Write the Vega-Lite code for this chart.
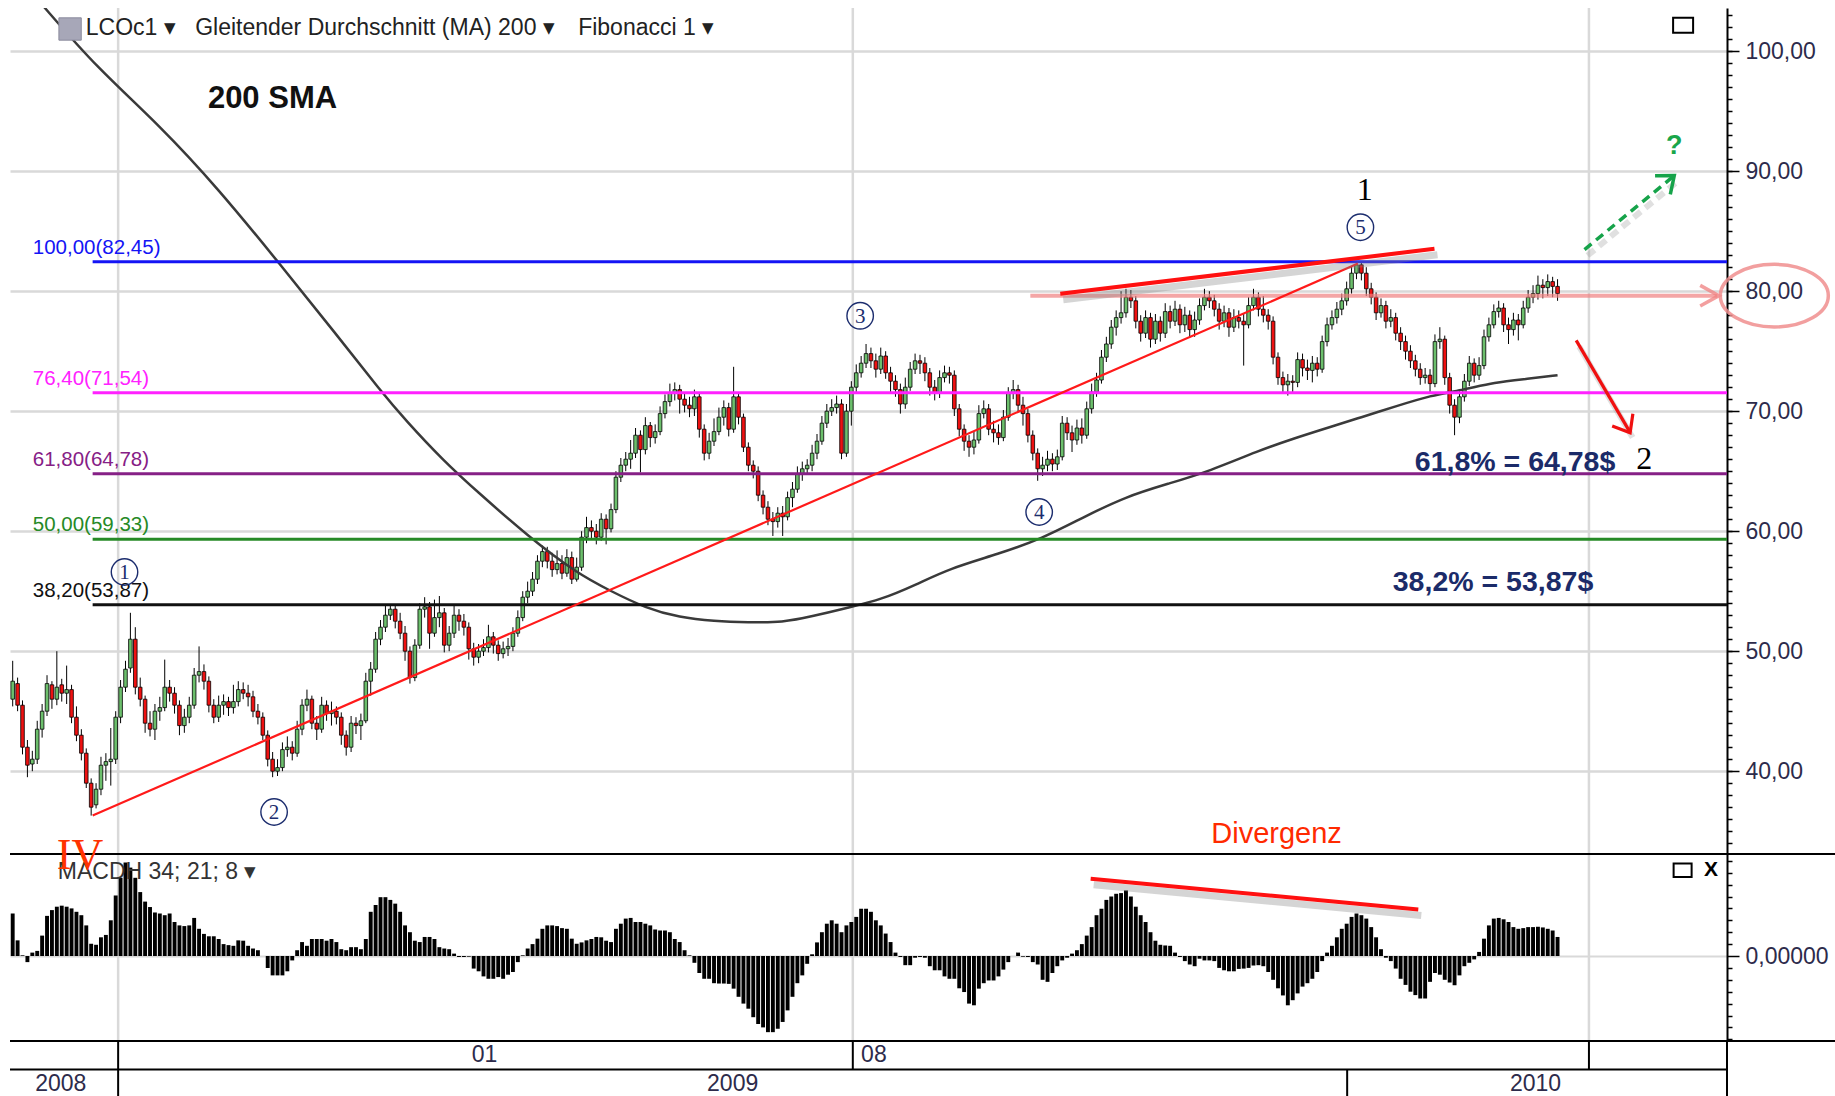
{
"$schema":"https://vega.github.io/schema/vega-lite/v6.json",
"background":"white",
"padding":{"left":9,"top":6,"right":0,"bottom":0},
"spacing":0,
"bounds":"flush",
"config":{"view":{"stroke":null},"font":"Liberation Sans","concat":{"spacing":0}},
"datasets":{"ohlc":[
{"i":0,"o":46.0,"h":49.2,"l":45.4,"c":47.5,"m":1.25},{"i":1,"o":47.3,"h":47.8,"l":45.0,"c":45.5,"m":0.46},{"i":2,"o":45.5,"h":45.9,"l":41.4,"c":42.0,"m":0.02},{"i":3,"o":42.0,"h":42.6,"l":39.5,"c":40.5,"m":-0.18},{"i":4,"o":40.6,"h":41.7,"l":40.0,"c":41.0,"m":0.1},{"i":5,"o":41.0,"h":44.2,"l":40.6,"c":43.5,"m":0.15},{"i":6,"o":43.5,"h":45.6,"l":42.8,"c":45.0,"m":0.6},{"i":7,"o":45.0,"h":48.0,"l":44.6,"c":47.3,"m":1.18},{"i":8,"o":47.2,"h":47.5,"l":45.2,"c":46.0,"m":1.35},{"i":9,"o":46.0,"h":50.0,"l":45.5,"c":47.0,"m":1.45},
{"i":10,"o":47.2,"h":47.7,"l":45.8,"c":46.5,"m":1.48},{"i":11,"o":46.5,"h":48.8,"l":45.6,"c":46.8,"m":1.45},{"i":12,"o":46.8,"h":47.2,"l":44.0,"c":44.5,"m":1.4},{"i":13,"o":44.5,"h":45.4,"l":42.5,"c":43.0,"m":1.3},{"i":14,"o":43.0,"h":43.5,"l":40.9,"c":41.5,"m":1.2},{"i":15,"o":41.5,"h":41.9,"l":38.6,"c":39.0,"m":0.9},{"i":16,"o":39.0,"h":39.4,"l":36.3,"c":37.0,"m":0.36},{"i":17,"o":37.2,"h":39.0,"l":36.9,"c":38.5,"m":0.33},{"i":18,"o":38.5,"h":41.2,"l":38.0,"c":40.5,"m":0.55},{"i":19,"o":40.5,"h":41.5,"l":39.2,"c":40.8,"m":0.62},
{"i":20,"o":40.8,"h":43.6,"l":38.8,"c":41.0,"m":1.05},{"i":21,"o":41.0,"h":45.0,"l":40.6,"c":44.5,"m":1.78},{"i":22,"o":44.5,"h":47.6,"l":44.0,"c":47.0,"m":2.3},{"i":23,"o":47.0,"h":49.2,"l":46.6,"c":48.5,"m":2.75},{"i":24,"o":48.6,"h":53.2,"l":48.2,"c":51.0,"m":2.6},{"i":25,"o":51.0,"h":52.0,"l":46.4,"c":47.0,"m":2.3},{"i":26,"o":47.0,"h":47.8,"l":45.4,"c":46.0,"m":1.88},{"i":27,"o":46.0,"h":46.3,"l":43.2,"c":44.0,"m":1.6},{"i":28,"o":44.0,"h":45.0,"l":42.9,"c":43.5,"m":1.44},{"i":29,"o":43.5,"h":45.6,"l":42.6,"c":45.0,"m":1.28},
{"i":30,"o":45.0,"h":46.2,"l":44.2,"c":45.3,"m":1.25},{"i":31,"o":45.3,"h":49.3,"l":45.0,"c":47.0,"m":1.2},{"i":32,"o":47.0,"h":47.6,"l":45.8,"c":46.5,"m":1.25},{"i":33,"o":46.5,"h":47.0,"l":44.8,"c":45.5,"m":1.0},{"i":34,"o":45.5,"h":45.9,"l":43.0,"c":43.8,"m":0.9},{"i":35,"o":43.8,"h":45.2,"l":43.2,"c":44.5,"m":0.88},{"i":36,"o":44.5,"h":46.2,"l":44.0,"c":45.5,"m":0.9},{"i":37,"o":45.5,"h":48.6,"l":45.2,"c":48.0,"m":1.12},{"i":38,"o":48.0,"h":50.4,"l":47.4,"c":48.3,"m":0.8},{"i":39,"o":48.3,"h":48.9,"l":46.8,"c":47.5,"m":0.65},
{"i":40,"o":47.5,"h":47.9,"l":44.9,"c":45.5,"m":0.58},{"i":41,"o":45.5,"h":46.0,"l":44.0,"c":44.5,"m":0.58},{"i":42,"o":44.5,"h":46.3,"l":44.1,"c":45.5,"m":0.5},{"i":43,"o":45.5,"h":46.4,"l":44.7,"c":45.8,"m":0.35},{"i":44,"o":45.8,"h":46.2,"l":44.6,"c":45.3,"m":0.32},{"i":45,"o":45.3,"h":47.2,"l":44.8,"c":45.8,"m":0.3},{"i":46,"o":45.8,"h":47.5,"l":45.4,"c":46.8,"m":0.46},{"i":47,"o":46.8,"h":47.4,"l":46.0,"c":46.5,"m":0.45},{"i":48,"o":46.5,"h":47.2,"l":45.4,"c":46.2,"m":0.3},{"i":49,"o":46.2,"h":46.7,"l":44.5,"c":45.0,"m":0.22},
{"i":50,"o":45.0,"h":45.6,"l":43.9,"c":44.5,"m":0.17},{"i":51,"o":44.5,"h":44.9,"l":42.6,"c":43.0,"m":0.0},{"i":52,"o":43.0,"h":43.4,"l":40.4,"c":41.0,"m":-0.35},{"i":53,"o":41.0,"h":41.6,"l":39.5,"c":40.0,"m":-0.57},{"i":54,"o":40.0,"h":41.0,"l":39.6,"c":40.3,"m":-0.57},{"i":55,"o":40.3,"h":42.4,"l":40.0,"c":41.8,"m":-0.57},{"i":56,"o":41.8,"h":42.9,"l":41.2,"c":42.0,"m":-0.45},{"i":57,"o":42.0,"h":42.5,"l":40.9,"c":41.5,"m":-0.13},{"i":58,"o":41.5,"h":44.2,"l":41.2,"c":43.5,"m":0.17},{"i":59,"o":43.5,"h":46.0,"l":43.0,"c":45.5,"m":0.41},
{"i":60,"o":45.5,"h":46.8,"l":45.0,"c":46.0,"m":0.3},{"i":61,"o":46.0,"h":46.3,"l":43.5,"c":44.0,"m":0.5},{"i":62,"o":44.0,"h":44.6,"l":42.6,"c":43.5,"m":0.5},{"i":63,"o":43.5,"h":46.2,"l":43.2,"c":45.5,"m":0.5},{"i":64,"o":45.5,"h":45.9,"l":44.2,"c":44.8,"m":0.45},{"i":65,"o":44.8,"h":45.8,"l":43.8,"c":45.0,"m":0.5},{"i":66,"o":45.0,"h":45.4,"l":43.9,"c":44.5,"m":0.41},{"i":67,"o":44.5,"h":44.9,"l":42.2,"c":43.0,"m":0.2},{"i":68,"o":43.0,"h":43.4,"l":41.3,"c":42.0,"m":0.17},{"i":69,"o":42.0,"h":44.6,"l":41.6,"c":44.0,"m":0.26},
{"i":70,"o":44.0,"h":44.5,"l":43.1,"c":43.8,"m":0.26},{"i":71,"o":43.8,"h":44.8,"l":42.6,"c":44.2,"m":0.2},{"i":72,"o":44.2,"h":48.2,"l":44.0,"c":47.5,"m":0.5},{"i":73,"o":47.5,"h":49.1,"l":46.3,"c":48.5,"m":1.3},{"i":74,"o":48.5,"h":51.6,"l":48.2,"c":51.0,"m":1.5},{"i":75,"o":51.0,"h":52.6,"l":50.5,"c":52.0,"m":1.73},{"i":76,"o":52.0,"h":53.8,"l":51.6,"c":53.0,"m":1.73},{"i":77,"o":53.0,"h":53.9,"l":52.6,"c":53.5,"m":1.65},{"i":78,"o":53.5,"h":53.9,"l":51.9,"c":52.5,"m":1.54},{"i":79,"o":52.5,"h":53.2,"l":51.0,"c":51.5,"m":1.3},
{"i":80,"o":51.5,"h":52.1,"l":49.2,"c":50.0,"m":0.9},{"i":81,"o":50.0,"h":50.4,"l":47.3,"c":47.8,"m":0.7},{"i":82,"o":47.8,"h":51.0,"l":47.5,"c":50.5,"m":0.45},{"i":83,"o":50.5,"h":54.0,"l":50.2,"c":53.5,"m":0.41},{"i":84,"o":53.5,"h":54.5,"l":52.8,"c":53.7,"m":0.56},{"i":85,"o":53.7,"h":54.1,"l":50.2,"c":51.5,"m":0.56},{"i":86,"o":51.5,"h":54.3,"l":51.2,"c":52.8,"m":0.5},{"i":87,"o":52.8,"h":54.6,"l":52.0,"c":53.2,"m":0.26},{"i":88,"o":53.2,"h":53.6,"l":49.9,"c":50.5,"m":0.22},{"i":89,"o":50.5,"h":52.1,"l":50.0,"c":51.5,"m":0.2},
{"i":90,"o":51.5,"h":53.9,"l":51.1,"c":53.0,"m":0.07},{"i":91,"o":53.0,"h":53.5,"l":51.7,"c":52.5,"m":-0.03},{"i":92,"o":52.5,"h":53.1,"l":51.3,"c":52.0,"m":-0.03},{"i":93,"o":52.0,"h":52.4,"l":49.3,"c":50.2,"m":-0.02},{"i":94,"o":50.2,"h":50.7,"l":48.8,"c":49.5,"m":-0.37},{"i":95,"o":49.5,"h":50.6,"l":49.0,"c":50.0,"m":-0.45},{"i":96,"o":50.0,"h":51.0,"l":49.6,"c":50.3,"m":-0.6},{"i":97,"o":50.3,"h":52.2,"l":49.9,"c":51.2,"m":-0.67},{"i":98,"o":51.2,"h":51.6,"l":49.8,"c":50.5,"m":-0.67},{"i":99,"o":50.5,"h":50.9,"l":49.2,"c":49.8,"m":-0.62},
{"i":100,"o":49.8,"h":50.8,"l":49.4,"c":50.2,"m":-0.67},{"i":101,"o":50.2,"h":51.1,"l":49.6,"c":50.4,"m":-0.55},{"i":102,"o":50.4,"h":52.0,"l":50.0,"c":51.5,"m":-0.47},{"i":103,"o":51.5,"h":53.4,"l":51.2,"c":52.8,"m":-0.18},{"i":104,"o":52.8,"h":55.0,"l":52.5,"c":54.5,"m":0.02},{"i":105,"o":54.5,"h":55.8,"l":54.0,"c":55.0,"m":0.22},{"i":106,"o":55.0,"h":56.6,"l":54.6,"c":56.0,"m":0.35},{"i":107,"o":56.0,"h":58.0,"l":55.6,"c":57.5,"m":0.51},{"i":108,"o":57.5,"h":58.8,"l":57.0,"c":58.3,"m":0.8},{"i":109,"o":58.3,"h":58.7,"l":56.9,"c":57.5,"m":0.9},
{"i":110,"o":57.5,"h":58.2,"l":56.2,"c":56.8,"m":0.9},{"i":111,"o":56.8,"h":58.4,"l":56.4,"c":57.3,"m":0.88},{"i":112,"o":57.3,"h":58.0,"l":56.0,"c":56.5,"m":0.82},{"i":113,"o":56.5,"h":58.5,"l":56.2,"c":57.8,"m":0.8},{"i":114,"o":57.8,"h":58.3,"l":55.6,"c":56.0,"m":0.51},{"i":115,"o":56.0,"h":57.8,"l":55.8,"c":57.0,"m":0.36},{"i":116,"o":57.0,"h":60.0,"l":56.7,"c":59.5,"m":0.4},{"i":117,"o":59.5,"h":61.2,"l":59.0,"c":60.3,"m":0.46},{"i":118,"o":60.3,"h":60.9,"l":59.4,"c":60.0,"m":0.5},{"i":119,"o":60.0,"h":60.6,"l":58.9,"c":59.5,"m":0.56},
{"i":120,"o":59.5,"h":61.5,"l":59.2,"c":61.0,"m":0.55},{"i":121,"o":61.0,"h":61.4,"l":58.9,"c":60.2,"m":0.45},{"i":122,"o":60.2,"h":62.3,"l":59.9,"c":61.8,"m":0.41},{"i":123,"o":61.8,"h":65.0,"l":61.5,"c":64.5,"m":0.8},{"i":124,"o":64.5,"h":66.1,"l":64.1,"c":65.5,"m":0.95},{"i":125,"o":65.5,"h":66.6,"l":65.0,"c":66.0,"m":1.1},{"i":126,"o":66.0,"h":67.6,"l":65.2,"c":66.5,"m":1.12},{"i":127,"o":66.5,"h":68.6,"l":66.1,"c":68.0,"m":1.0},{"i":128,"o":68.0,"h":68.4,"l":64.9,"c":66.8,"m":1.0},{"i":129,"o":66.8,"h":69.5,"l":66.4,"c":68.8,"m":0.95},
{"i":130,"o":68.8,"h":69.1,"l":67.0,"c":67.8,"m":0.9},{"i":131,"o":67.8,"h":68.9,"l":67.3,"c":68.3,"m":0.78},{"i":132,"o":68.3,"h":70.4,"l":68.0,"c":69.8,"m":0.75},{"i":133,"o":69.8,"h":71.4,"l":69.4,"c":70.8,"m":0.75},{"i":134,"o":70.8,"h":72.3,"l":70.4,"c":71.5,"m":0.7},{"i":135,"o":71.5,"h":72.4,"l":70.9,"c":71.8,"m":0.5},{"i":136,"o":71.8,"h":72.2,"l":69.8,"c":71.0,"m":0.41},{"i":137,"o":71.0,"h":71.6,"l":69.9,"c":70.5,"m":0.17},{"i":138,"o":70.5,"h":71.2,"l":69.5,"c":70.2,"m":0.02},{"i":139,"o":70.2,"h":71.8,"l":69.6,"c":71.2,"m":-0.2},
{"i":140,"o":71.2,"h":71.5,"l":67.8,"c":68.5,"m":-0.5},{"i":141,"o":68.5,"h":68.9,"l":65.9,"c":66.5,"m":-0.67},{"i":142,"o":66.5,"h":68.2,"l":66.0,"c":67.5,"m":-0.67},{"i":143,"o":67.5,"h":69.4,"l":67.1,"c":68.3,"m":-0.8},{"i":144,"o":68.3,"h":70.3,"l":68.0,"c":69.5,"m":-0.81},{"i":145,"o":69.5,"h":70.9,"l":68.8,"c":70.3,"m":-0.81},{"i":146,"o":70.3,"h":70.7,"l":67.9,"c":68.5,"m":-0.82},{"i":147,"o":68.5,"h":73.7,"l":68.2,"c":71.2,"m":-0.96},{"i":148,"o":71.2,"h":71.5,"l":68.9,"c":69.5,"m":-1.2},{"i":149,"o":69.5,"h":69.8,"l":66.6,"c":67.0,"m":-1.4},
{"i":150,"o":67.0,"h":67.4,"l":65.0,"c":65.5,"m":-1.55},{"i":151,"o":65.5,"h":65.9,"l":64.4,"c":65.0,"m":-1.8},{"i":152,"o":65.0,"h":65.4,"l":62.5,"c":63.0,"m":-2.0},{"i":153,"o":63.0,"h":63.4,"l":61.4,"c":62.0,"m":-2.1},{"i":154,"o":62.0,"h":62.5,"l":60.5,"c":61.0,"m":-2.24},{"i":155,"o":61.0,"h":61.6,"l":59.6,"c":60.8,"m":-2.24},{"i":156,"o":60.8,"h":62.0,"l":60.3,"c":61.5,"m":-2.14},{"i":157,"o":61.5,"h":62.1,"l":59.6,"c":61.2,"m":-1.94},{"i":158,"o":61.2,"h":63.3,"l":60.9,"c":62.8,"m":-1.6},{"i":159,"o":62.8,"h":64.1,"l":62.0,"c":63.5,"m":-1.2},
{"i":160,"o":63.5,"h":65.4,"l":63.2,"c":64.8,"m":-0.8},{"i":161,"o":64.8,"h":65.8,"l":64.2,"c":65.2,"m":-0.57},{"i":162,"o":65.2,"h":66.0,"l":64.7,"c":65.5,"m":-0.23},{"i":163,"o":65.5,"h":67.2,"l":65.0,"c":66.5,"m":0.05},{"i":164,"o":66.5,"h":68.1,"l":66.0,"c":67.5,"m":0.4},{"i":165,"o":67.5,"h":69.6,"l":67.2,"c":69.0,"m":0.7},{"i":166,"o":69.0,"h":70.6,"l":68.6,"c":70.0,"m":0.95},{"i":167,"o":70.0,"h":71.0,"l":69.6,"c":70.3,"m":1.05},{"i":168,"o":70.3,"h":71.3,"l":69.8,"c":70.6,"m":0.95},{"i":169,"o":70.6,"h":71.0,"l":66.0,"c":66.5,"m":0.7},
{"i":170,"o":66.5,"h":70.6,"l":66.2,"c":70.0,"m":0.9},{"i":171,"o":70.0,"h":72.5,"l":68.8,"c":72.0,"m":1.0},{"i":172,"o":72.0,"h":73.9,"l":71.6,"c":73.2,"m":1.15},{"i":173,"o":73.2,"h":74.6,"l":72.8,"c":74.0,"m":1.39},{"i":174,"o":74.0,"h":75.6,"l":73.6,"c":74.8,"m":1.39},{"i":175,"o":74.8,"h":75.3,"l":73.6,"c":74.2,"m":1.3},{"i":176,"o":74.2,"h":74.8,"l":72.8,"c":73.5,"m":1.05},{"i":177,"o":73.5,"h":75.3,"l":73.1,"c":74.6,"m":0.9},{"i":178,"o":74.6,"h":75.0,"l":72.7,"c":73.2,"m":0.66},{"i":179,"o":73.2,"h":73.7,"l":71.6,"c":72.5,"m":0.41},
{"i":180,"o":72.5,"h":73.0,"l":71.2,"c":71.8,"m":0.1},{"i":181,"o":71.8,"h":72.3,"l":69.8,"c":70.6,"m":-0.03},{"i":182,"o":70.6,"h":72.8,"l":70.2,"c":72.0,"m":-0.27},{"i":183,"o":72.0,"h":74.1,"l":71.7,"c":73.5,"m":-0.27},{"i":184,"o":73.5,"h":74.8,"l":73.1,"c":74.2,"m":-0.05},{"i":185,"o":74.2,"h":74.7,"l":73.1,"c":74.0,"m":-0.03},{"i":186,"o":74.0,"h":74.5,"l":72.5,"c":73.2,"m":-0.05},{"i":187,"o":73.2,"h":73.6,"l":71.3,"c":72.0,"m":-0.3},{"i":188,"o":72.0,"h":72.6,"l":70.9,"c":71.5,"m":-0.42},{"i":189,"o":71.5,"h":73.4,"l":71.1,"c":72.8,"m":-0.42},
{"i":190,"o":72.8,"h":73.8,"l":72.4,"c":73.2,"m":-0.6},{"i":191,"o":73.2,"h":73.7,"l":72.3,"c":73.0,"m":-0.67},{"i":192,"o":73.0,"h":73.4,"l":69.6,"c":70.2,"m":-0.67},{"i":193,"o":70.2,"h":70.6,"l":67.9,"c":68.5,"m":-0.95},{"i":194,"o":68.5,"h":68.9,"l":66.7,"c":67.5,"m":-1.06},{"i":195,"o":67.5,"h":68.0,"l":66.2,"c":67.0,"m":-1.4},{"i":196,"o":67.0,"h":68.3,"l":66.4,"c":67.6,"m":-1.45},{"i":197,"o":67.6,"h":70.5,"l":67.3,"c":69.8,"m":-0.96},{"i":198,"o":69.8,"h":70.9,"l":69.4,"c":70.2,"m":-0.8},{"i":199,"o":70.2,"h":70.6,"l":68.0,"c":68.5,"m":-0.72},
{"i":200,"o":68.5,"h":69.2,"l":67.4,"c":68.2,"m":-0.72},{"i":201,"o":68.2,"h":68.9,"l":67.2,"c":67.8,"m":-0.6},{"i":202,"o":67.8,"h":70.1,"l":67.5,"c":69.5,"m":-0.4},{"i":203,"o":69.5,"h":72.0,"l":69.2,"c":71.5,"m":-0.18},{"i":204,"o":71.5,"h":72.6,"l":71.0,"c":71.8,"m":0.0},{"i":205,"o":71.8,"h":72.2,"l":69.9,"c":70.5,"m":0.1},{"i":206,"o":70.5,"h":71.2,"l":68.8,"c":69.8,"m":-0.02},{"i":207,"o":69.8,"h":70.2,"l":67.4,"c":68.0,"m":-0.03},{"i":208,"o":68.0,"h":68.4,"l":65.9,"c":66.5,"m":-0.18},{"i":209,"o":66.5,"h":66.9,"l":64.2,"c":65.2,"m":-0.25},
{"i":210,"o":65.2,"h":66.2,"l":64.6,"c":65.5,"m":-0.7},{"i":211,"o":65.5,"h":66.7,"l":65.0,"c":66.0,"m":-0.76},{"i":212,"o":66.0,"h":66.5,"l":65.0,"c":65.6,"m":-0.5},{"i":213,"o":65.6,"h":66.8,"l":65.1,"c":66.2,"m":-0.3},{"i":214,"o":66.2,"h":69.6,"l":65.9,"c":69.0,"m":-0.13},{"i":215,"o":69.0,"h":69.5,"l":67.6,"c":68.2,"m":-0.05},{"i":216,"o":68.2,"h":68.8,"l":66.6,"c":67.6,"m":0.07},{"i":217,"o":67.6,"h":69.3,"l":67.2,"c":68.6,"m":0.17},{"i":218,"o":68.6,"h":69.4,"l":67.3,"c":68.0,"m":0.35},{"i":219,"o":68.0,"h":70.8,"l":67.7,"c":70.2,"m":0.6},
{"i":220,"o":70.2,"h":72.3,"l":69.8,"c":71.6,"m":0.85},{"i":221,"o":71.6,"h":73.2,"l":71.2,"c":72.6,"m":1.2},{"i":222,"o":72.6,"h":75.1,"l":72.3,"c":74.5,"m":1.39},{"i":223,"o":74.5,"h":76.2,"l":74.1,"c":75.6,"m":1.65},{"i":224,"o":75.6,"h":77.6,"l":75.2,"c":77.0,"m":1.75},{"i":225,"o":77.0,"h":78.4,"l":76.3,"c":77.8,"m":1.83},{"i":226,"o":77.8,"h":80.0,"l":77.3,"c":78.2,"m":1.85},{"i":227,"o":78.2,"h":80.2,"l":77.8,"c":79.5,"m":1.93},{"i":228,"o":79.5,"h":80.1,"l":78.6,"c":79.2,"m":1.75},{"i":229,"o":79.2,"h":79.6,"l":76.9,"c":77.5,"m":1.45},
{"i":230,"o":77.5,"h":78.0,"l":75.8,"c":76.5,"m":1.2},{"i":231,"o":76.5,"h":78.4,"l":76.1,"c":77.8,"m":1.0},{"i":232,"o":77.8,"h":78.2,"l":75.3,"c":76.0,"m":0.7},{"i":233,"o":76.0,"h":78.1,"l":75.6,"c":77.5,"m":0.45},{"i":234,"o":77.5,"h":77.9,"l":75.8,"c":76.5,"m":0.33},{"i":235,"o":76.5,"h":79.0,"l":76.1,"c":78.3,"m":0.31},{"i":236,"o":78.3,"h":78.8,"l":76.9,"c":77.5,"m":0.3},{"i":237,"o":77.5,"h":79.2,"l":77.1,"c":78.5,"m":0.1},{"i":238,"o":78.5,"h":78.9,"l":76.5,"c":77.2,"m":-0.03},{"i":239,"o":77.2,"h":78.7,"l":76.6,"c":78.0,"m":-0.15},
{"i":240,"o":78.0,"h":78.4,"l":76.1,"c":76.8,"m":-0.25},{"i":241,"o":76.8,"h":78.3,"l":76.2,"c":77.6,"m":-0.3},{"i":242,"o":77.6,"h":79.4,"l":77.2,"c":78.8,"m":-0.08},{"i":243,"o":78.8,"h":80.2,"l":78.4,"c":79.5,"m":-0.13},{"i":244,"o":79.5,"h":80.0,"l":78.6,"c":79.2,"m":-0.13},{"i":245,"o":79.2,"h":79.7,"l":77.9,"c":78.5,"m":-0.15},{"i":246,"o":78.5,"h":79.0,"l":76.8,"c":77.5,"m":-0.35},{"i":247,"o":77.5,"h":78.8,"l":77.0,"c":78.2,"m":-0.42},{"i":248,"o":78.2,"h":78.6,"l":76.2,"c":77.0,"m":-0.45},{"i":249,"o":77.0,"h":78.5,"l":76.6,"c":77.8,"m":-0.45},
{"i":250,"o":77.8,"h":78.4,"l":76.9,"c":77.5,"m":-0.38},{"i":251,"o":77.5,"h":78.1,"l":73.8,"c":77.2,"m":-0.37},{"i":252,"o":77.2,"h":79.5,"l":76.9,"c":78.8,"m":-0.35},{"i":253,"o":78.8,"h":80.2,"l":78.4,"c":79.5,"m":-0.28},{"i":254,"o":79.5,"h":79.9,"l":77.9,"c":78.5,"m":-0.27},{"i":255,"o":78.5,"h":79.6,"l":77.4,"c":78.0,"m":-0.3},{"i":256,"o":78.0,"h":78.5,"l":76.8,"c":77.5,"m":-0.47},{"i":257,"o":77.5,"h":77.9,"l":73.9,"c":74.5,"m":-0.7},{"i":258,"o":74.5,"h":74.9,"l":72.2,"c":72.8,"m":-0.95},{"i":259,"o":72.8,"h":73.3,"l":71.5,"c":72.2,"m":-1.16},
{"i":260,"o":72.2,"h":73.1,"l":71.3,"c":72.5,"m":-1.45},{"i":261,"o":72.5,"h":73.0,"l":71.6,"c":72.4,"m":-1.3},{"i":262,"o":72.4,"h":74.9,"l":72.0,"c":74.3,"m":-1.1},{"i":263,"o":74.3,"h":74.8,"l":72.9,"c":73.6,"m":-0.9},{"i":264,"o":73.6,"h":74.3,"l":72.6,"c":73.4,"m":-0.8},{"i":265,"o":73.4,"h":74.6,"l":72.4,"c":74.0,"m":-0.67},{"i":266,"o":74.0,"h":74.5,"l":72.9,"c":73.5,"m":-0.47},{"i":267,"o":73.5,"h":76.3,"l":73.2,"c":75.8,"m":-0.15},{"i":268,"o":75.8,"h":77.8,"l":75.4,"c":77.2,"m":0.1},{"i":269,"o":77.2,"h":78.4,"l":76.8,"c":77.8,"m":0.3},
{"i":270,"o":77.8,"h":79.1,"l":77.3,"c":78.5,"m":0.55},{"i":271,"o":78.5,"h":79.8,"l":78.0,"c":79.2,"m":0.8},{"i":272,"o":79.2,"h":80.8,"l":78.8,"c":80.2,"m":0.95},{"i":273,"o":80.2,"h":82.1,"l":79.8,"c":81.5,"m":1.15},{"i":274,"o":81.5,"h":82.45,"l":81.0,"c":82.2,"m":1.25},{"i":275,"o":82.2,"h":82.4,"l":80.9,"c":81.5,"m":1.2},{"i":276,"o":81.5,"h":82.0,"l":79.6,"c":80.2,"m":1.1},{"i":277,"o":80.2,"h":80.7,"l":78.9,"c":79.5,"m":0.85},{"i":278,"o":79.5,"h":79.9,"l":77.6,"c":78.2,"m":0.55},{"i":279,"o":78.2,"h":79.4,"l":77.8,"c":78.8,"m":0.2},
{"i":280,"o":78.8,"h":79.2,"l":76.9,"c":77.5,"m":-0.05},{"i":281,"o":77.5,"h":78.5,"l":77.0,"c":77.8,"m":-0.15},{"i":282,"o":77.8,"h":78.2,"l":75.9,"c":76.5,"m":-0.37},{"i":283,"o":76.5,"h":77.0,"l":75.1,"c":75.8,"m":-0.67},{"i":284,"o":75.8,"h":76.3,"l":74.3,"c":75.0,"m":-0.85},{"i":285,"o":75.0,"h":75.5,"l":73.6,"c":74.2,"m":-1.05},{"i":286,"o":74.2,"h":74.7,"l":72.9,"c":73.5,"m":-1.15},{"i":287,"o":73.5,"h":74.0,"l":72.2,"c":72.8,"m":-1.25},{"i":288,"o":72.8,"h":73.6,"l":72.3,"c":73.0,"m":-1.25},{"i":289,"o":73.0,"h":73.5,"l":71.6,"c":72.3,"m":-0.76},
{"i":290,"o":72.3,"h":76.4,"l":72.0,"c":75.8,"m":-0.5},{"i":291,"o":75.8,"h":77.0,"l":75.2,"c":76.0,"m":-0.55},{"i":292,"o":76.0,"h":76.3,"l":72.2,"c":72.8,"m":-0.7},{"i":293,"o":72.8,"h":73.2,"l":69.8,"c":70.5,"m":-0.78},{"i":294,"o":70.5,"h":71.0,"l":68.0,"c":69.5,"m":-0.86},{"i":295,"o":69.5,"h":71.8,"l":69.0,"c":71.2,"m":-0.57},{"i":296,"o":71.2,"h":73.1,"l":70.8,"c":72.5,"m":-0.3},{"i":297,"o":72.5,"h":74.6,"l":72.1,"c":74.0,"m":-0.2},{"i":298,"o":74.0,"h":74.4,"l":72.4,"c":73.0,"m":-0.1},{"i":299,"o":73.0,"h":74.5,"l":72.6,"c":73.8,"m":0.12},
{"i":300,"o":73.8,"h":76.8,"l":73.5,"c":76.2,"m":0.51},{"i":301,"o":76.2,"h":77.8,"l":75.8,"c":77.2,"m":0.9},{"i":302,"o":77.2,"h":78.9,"l":76.9,"c":78.3,"m":1.1},{"i":303,"o":78.3,"h":79.2,"l":77.8,"c":78.6,"m":1.12},{"i":304,"o":78.6,"h":79.0,"l":76.6,"c":77.2,"m":1.08},{"i":305,"o":77.2,"h":77.8,"l":75.6,"c":76.8,"m":1.0},{"i":306,"o":76.8,"h":78.2,"l":76.3,"c":77.6,"m":0.85},{"i":307,"o":77.6,"h":78.1,"l":75.9,"c":77.2,"m":0.8},{"i":308,"o":77.2,"h":79.2,"l":76.9,"c":78.6,"m":0.82},{"i":309,"o":78.6,"h":80.1,"l":78.2,"c":79.5,"m":0.85},
{"i":310,"o":79.5,"h":80.5,"l":79.0,"c":79.8,"m":0.85},{"i":311,"o":79.8,"h":81.3,"l":79.3,"c":80.5,"m":0.86},{"i":312,"o":80.5,"h":81.0,"l":79.4,"c":80.3,"m":0.84},{"i":313,"o":80.3,"h":81.4,"l":79.6,"c":80.8,"m":0.8},{"i":314,"o":80.8,"h":81.2,"l":79.5,"c":80.4,"m":0.75},{"i":315,"o":80.4,"h":81.0,"l":79.2,"c":79.8,"m":0.56}
],
"vgrid":[{"x":21.5},{"x":171.3},{"x":321.4}],
"one":[{}]
},
"vconcat":[
{
"width":1717,"height":846,
"resolve":{"axis":{"y":"independent"}},
"layer":[
{"data":{"name":"vgrid"},"mark":{"type":"rule","color":"#d9d9d9","strokeWidth":2.5},
 "encoding":{"x":{"field":"x","type":"quantitative","scale":{"domain":[-0.55,349.55],"nice":false,"zero":false,"padding":0},"axis":null}}},
{"data":{"name":"ohlc"},"mark":{"type":"rule","color":"#000","strokeWidth":1},
 "encoding":{"x":{"field":"i","type":"quantitative","scale":{"domain":[-0.55,349.55],"nice":false,"zero":false,"padding":0},"axis":null},
  "y":{"field":"l","type":"quantitative","scale":{"domain":[33.1,103.6],"nice":false,"zero":false,"padding":0},
   "axis":{"orient":"right","values":[40,50,60,70,80,90,100],"labelExpr":"replace(format(datum.value,'.2f'),'.',',')","tickSize":12,"tickColor":"#000","tickWidth":1.5,"domain":true,"domainColor":"#000","domainWidth":2,"grid":true,"gridColor":"#d9d9d9","gridWidth":2.5,"labelFontSize":23,"labelFont":"Liberation Sans","labelColor":"#2d2b4b","labelPadding":6,"title":null,"zindex":0}},
  "y2":{"field":"h"}}},
{"data":{"name":"ohlc"},"mark":{"type":"bar","width":3.6,"stroke":"#000","strokeWidth":0.8},
 "encoding":{"x":{"field":"i","type":"quantitative","scale":{"domain":[-0.55,349.55],"nice":false,"zero":false,"padding":0},"axis":null},
  "y":{"field":"o","type":"quantitative","scale":{"domain":[33.1,103.6],"nice":false,"zero":false,"padding":0},
   "axis":{"orient":"right","values":[34,35,36,37,38,39,40,41,42,43,44,45,46,47,48,49,50,51,52,53,54,55,56,57,58,59,60,61,62,63,64,65,66,67,68,69,70,71,72,73,74,75,76,77,78,79,80,81,82,83,84,85,86,87,88,89,90,91,92,93,94,95,96,97,98,99,100,101,102,103],"labels":false,"tickSize":5,"tickColor":"#000","tickWidth":1.5,"domain":false,"grid":false,"title":null,"zindex":0}},
  "y2":{"field":"c"},
  "color":{"condition":{"test":"datum.c >= datum.o","value":"#6cbf6c"},"value":"#ee1111"}}},
{"data":{"values":[{"i":0,"s":106.7},{"i":7,"s":103.4},{"i":17,"s":98.7},{"i":30,"s":93.8},{"i":42,"s":88.5},{"i":54,"s":82.5},{"i":66,"s":76.4},{"i":75,"s":71.7},{"i":80,"s":69.3},{"i":88,"s":65.8},{"i":95,"s":63.2},{"i":105,"s":59.6},{"i":115,"s":56.5},{"i":122,"s":55.0},{"i":129,"s":53.6},{"i":136,"s":52.8},{"i":143,"s":52.5},{"i":150,"s":52.4},{"i":157,"s":52.4},{"i":163,"s":52.9},{"i":171,"s":53.7},{"i":177,"s":54.3},{"i":184,"s":55.5},{"i":191,"s":56.9},{"i":201,"s":58.1},{"i":210,"s":59.4},{"i":218,"s":61.1},{"i":227,"s":62.9},{"i":236,"s":64.0},{"i":244,"s":65.0},{"i":254,"s":66.7},{"i":261,"s":67.7},{"i":268,"s":68.6},{"i":275,"s":69.5},{"i":282,"s":70.4},{"i":289,"s":71.3},{"i":296,"s":71.8},{"i":302,"s":72.4},{"i":309,"s":72.7},{"i":315,"s":73.0}]},
 "mark":{"type":"line","color":"#3a3a3a","strokeWidth":2.5,"clip":true,"interpolate":"basis"},
 "encoding":{"x":{"field":"i","type":"quantitative","scale":{"domain":[-0.55,349.55],"nice":false,"zero":false,"padding":0},"axis":null},
  "y":{"field":"s","type":"quantitative","scale":{"domain":[33.1,103.6],"nice":false,"zero":false,"padding":0},"axis":null}}},
{"data":{"values":[{"lvl":"100,00(82,45)","p":82.45},{"lvl":"76,40(71,54)","p":71.54},{"lvl":"61,80(64,78)","p":64.78},{"lvl":"50,00(59,33)","p":59.33},{"lvl":"38,20(53,87)","p":53.87}]},
 "mark":{"type":"rule","strokeWidth":3},
 "encoding":{"x":{"datum":16.3,"type":"quantitative","scale":{"domain":[-0.55,349.55],"nice":false,"zero":false,"padding":0},"axis":null},"x2":{"datum":349.55},
  "y":{"field":"p","type":"quantitative","scale":{"domain":[33.1,103.6],"nice":false,"zero":false,"padding":0},"axis":null},
  "color":{"field":"lvl","type":"nominal","scale":{"domain":["100,00(82,45)","76,40(71,54)","61,80(64,78)","50,00(59,33)","38,20(53,87)"],"range":["#1414f5","#ff22ff","#862086","#268a26","#111111"]},"legend":null}}},
{"data":{"values":[{"lvl":"100,00(82,45)","p":82.45},{"lvl":"76,40(71,54)","p":71.54},{"lvl":"61,80(64,78)","p":64.78},{"lvl":"50,00(59,33)","p":59.33},{"lvl":"38,20(53,87)","p":53.87}]},
 "mark":{"type":"text","align":"left","baseline":"alphabetic","dy":-8,"fontSize":20.5,"font":"Liberation Sans"},
 "encoding":{"x":{"datum":4.1,"type":"quantitative","scale":{"domain":[-0.55,349.55],"nice":false,"zero":false,"padding":0},"axis":null},
  "y":{"field":"p","type":"quantitative","scale":{"domain":[33.1,103.6],"nice":false,"zero":false,"padding":0},"axis":null},
  "text":{"field":"lvl"},
  "color":{"field":"lvl","type":"nominal","scale":{"domain":["100,00(82,45)","76,40(71,54)","61,80(64,78)","50,00(59,33)","38,20(53,87)"],"range":["#1414f5","#ff22ff","#862086","#268a26","#111111"]},"legend":null}}},
{"data":{"name":"one"},"mark":{"type":"rule","color":"#f08080","opacity":0.7,"strokeWidth":4},
 "encoding":{"x":{"datum":207.5,"type":"quantitative","axis":null},"x2":{"datum":347.6},"y":{"datum":79.63,"type":"quantitative","axis":null}}},
{"data":{"name":"one"},"mark":{"type":"point","shape":"M -1 -0.55 L 0 0 L -1 0.55","size":1400,"filled":false,"color":"#f08080","strokeWidth":3.5,"opacity":0.75},
 "encoding":{"x":{"datum":347.9,"type":"quantitative","axis":null},"y":{"datum":79.63,"type":"quantitative","axis":null}}},
{"data":{"name":"one"},"mark":{"type":"point","shape":"M -1 0 C -1 -0.32 -0.552 -0.58 0 -0.58 C 0.552 -0.58 1 -0.32 1 0 C 1 0.32 0.552 0.58 0 0.58 C -0.552 0.58 -1 0.32 -1 0 Z","size":11664,"filled":false,"color":"#f08f8f","strokeWidth":3.5,"opacity":0.85},
 "encoding":{"x":{"datum":359.2,"type":"quantitative","axis":null},"y":{"datum":79.63,"type":"quantitative","axis":null}}},
{"data":{"name":"one"},"mark":{"type":"rule","color":"#ff1a1a","strokeWidth":2.2},
 "encoding":{"x":{"datum":16.3,"type":"quantitative","axis":null},"y":{"datum":36.3,"type":"quantitative","axis":null},"x2":{"datum":274.3},"y2":{"datum":82.3}}},
{"data":{"name":"one"},"mark":{"type":"rule","color":"#888","opacity":0.35,"strokeWidth":7,"xOffset":3,"yOffset":6,"x2Offset":3,"y2Offset":6},
 "encoding":{"x":{"datum":213.6,"type":"quantitative","axis":null},"y":{"datum":79.78,"type":"quantitative","axis":null},"x2":{"datum":289.9},"y2":{"datum":83.53}}},
{"data":{"name":"one"},"mark":{"type":"rule","color":"#ff1010","strokeWidth":4},
 "encoding":{"x":{"datum":213.6,"type":"quantitative","axis":null},"y":{"datum":79.78,"type":"quantitative","axis":null},"x2":{"datum":289.9},"y2":{"datum":83.53}}},
{"data":{"values":[{"t":"200 SMA","x":39.8,"y":96.0}]},
 "mark":{"type":"text","align":"left","baseline":"middle","fontSize":31,"fontWeight":"bold","color":"#111","font":"Liberation Sans"},
 "encoding":{"x":{"field":"x","type":"quantitative","axis":null},"y":{"field":"y","type":"quantitative","axis":null},"text":{"field":"t"}}},
{"data":{"values":[{"t":"61,8% = 64,78$","x":285.9,"y":65.78},{"t":"38,2% = 53,87$","x":281.4,"y":55.75}]},
 "mark":{"type":"text","align":"left","baseline":"middle","fontSize":28.5,"fontWeight":"bold","color":"#1b2b69","font":"Liberation Sans"},
 "encoding":{"x":{"field":"x","type":"quantitative","axis":null},"y":{"field":"y","type":"quantitative","axis":null},"text":{"field":"t"}}},
{"data":{"values":[{"t":"1","x":275.7,"y":88.4},{"t":"2","x":332.7,"y":66.0}]},
 "mark":{"type":"text","align":"center","baseline":"middle","fontSize":32,"color":"#000","font":"Liberation Serif"},
 "encoding":{"x":{"field":"x","type":"quantitative","axis":null},"y":{"field":"y","type":"quantitative","axis":null},"text":{"field":"t"}}},
{"data":{"values":[{"t":"Divergenz","x":257.7,"y":34.75}]},
 "mark":{"type":"text","align":"center","baseline":"middle","fontSize":29,"color":"#ff2a00","font":"Liberation Sans"},
 "encoding":{"x":{"field":"x","type":"quantitative","axis":null},"y":{"field":"y","type":"quantitative","axis":null},"text":{"field":"t"}}},
{"data":{"values":[{"t":"?","x":338.8,"y":92.1}]},
 "mark":{"type":"text","align":"center","baseline":"middle","fontSize":27,"fontWeight":"bold","color":"#19a64a","font":"Liberation Sans"},
 "encoding":{"x":{"field":"x","type":"quantitative","axis":null},"y":{"field":"y","type":"quantitative","axis":null},"text":{"field":"t"}}},
{"data":{"values":[{"n":"1","x":22.8,"y":56.6},{"n":"2","x":53.3,"y":36.6},{"n":"3","x":172.8,"y":77.95},{"n":"4","x":209.3,"y":61.6},{"n":"5","x":274.8,"y":85.33}]},
 "mark":{"type":"point","shape":"circle","size":700,"filled":false,"color":"#1c2d6e","strokeWidth":1.4,"opacity":1},
 "encoding":{"x":{"field":"x","type":"quantitative","axis":null},"y":{"field":"y","type":"quantitative","axis":null}}},
{"data":{"values":[{"n":"1","x":22.8,"y":56.6},{"n":"2","x":53.3,"y":36.6},{"n":"3","x":172.8,"y":77.95},{"n":"4","x":209.3,"y":61.6},{"n":"5","x":274.8,"y":85.33}]},
 "mark":{"type":"text","align":"center","baseline":"middle","dy":1,"fontSize":21,"color":"#1c2d6e","font":"Liberation Serif"},
 "encoding":{"x":{"field":"x","type":"quantitative","axis":null},"y":{"field":"y","type":"quantitative","axis":null},"text":{"field":"n"}}},
{"data":{"name":"one"},"mark":{"type":"rule","color":"#999","opacity":0.3,"strokeWidth":6,"strokeDash":[9,6],"xOffset":3,"yOffset":6,"x2Offset":3,"y2Offset":6},
 "encoding":{"x":{"datum":320.5,"type":"quantitative","axis":null},"y":{"datum":83.47,"type":"quantitative","axis":null},"x2":{"datum":338.4},"y2":{"datum":89.5}}},
{"data":{"name":"one"},"mark":{"type":"rule","color":"#16a34a","strokeWidth":3.5,"strokeDash":[9,6]},
 "encoding":{"x":{"datum":320.5,"type":"quantitative","axis":null},"y":{"datum":83.47,"type":"quantitative","axis":null},"x2":{"datum":338.4},"y2":{"datum":89.5}}},
{"data":{"name":"one"},"mark":{"type":"point","shape":"M -1 -0.8 L 0 0 L -1 0.8","size":900,"filled":false,"color":"#16a34a","strokeWidth":3.5,"opacity":1,"angle":320.6},
 "encoding":{"x":{"datum":338.8,"type":"quantitative","axis":null},"y":{"datum":89.64,"type":"quantitative","axis":null}}},
{"data":{"name":"one"},"mark":{"type":"rule","color":"#999","opacity":0.3,"strokeWidth":6,"xOffset":3,"yOffset":6,"x2Offset":3,"y2Offset":6},
 "encoding":{"x":{"datum":318.8,"type":"quantitative","axis":null},"y":{"datum":75.9,"type":"quantitative","axis":null},"x2":{"datum":329.7},"y2":{"datum":68.3}}},
{"data":{"name":"one"},"mark":{"type":"rule","color":"#f01010","strokeWidth":3.2},
 "encoding":{"x":{"datum":318.8,"type":"quantitative","axis":null},"y":{"datum":75.9,"type":"quantitative","axis":null},"x2":{"datum":329.7},"y2":{"datum":68.3}}},
{"data":{"name":"one"},"mark":{"type":"point","shape":"M -1 -0.8 L 0 0 L -1 0.8","size":900,"filled":false,"color":"#f01010","strokeWidth":3.2,"opacity":1,"angle":59.5},
 "encoding":{"x":{"datum":329.8,"type":"quantitative","axis":null},"y":{"datum":68.2,"type":"quantitative","axis":null}}},
{"data":{"name":"one"},"mark":{"type":"point","shape":"square","size":500,"filled":true,"fill":"#a7a7b8","stroke":"#8a8a9c","strokeWidth":1,"opacity":1},
 "encoding":{"x":{"datum":11.7,"type":"quantitative","axis":null},"y":{"datum":101.85,"type":"quantitative","axis":null}}},
{"data":{"values":[{"t":"LCOc1 ▾","x":14.9,"y":101.9},{"t":"Gleitender Durchschnitt (MA) 200 ▾","x":37.2,"y":101.9},{"t":"Fibonacci 1 ▾","x":115.3,"y":101.9}]},
 "mark":{"type":"text","align":"left","baseline":"middle","fontSize":23,"color":"#222","font":"Liberation Sans"},
 "encoding":{"x":{"field":"x","type":"quantitative","axis":null},"y":{"field":"y","type":"quantitative","axis":null},"text":{"field":"t"}}},
{"data":{"name":"one"},"mark":{"type":"point","shape":"M -1 -0.75 L 1 -0.75 L 1 0.75 L -1 0.75 Z","size":400,"filled":true,"fill":"#fff","stroke":"#000","strokeWidth":2,"opacity":1},
 "encoding":{"x":{"datum":340.6,"type":"quantitative","axis":null},"y":{"datum":102.17,"type":"quantitative","axis":null}}}
]
},
{
"width":1717,"height":187,
"resolve":{"axis":{"y":"independent"}},
"layer":[
{"data":{"name":"vgrid"},"mark":{"type":"rule","color":"#d9d9d9","strokeWidth":2.5},
 "encoding":{"x":{"field":"x","type":"quantitative","scale":{"domain":[-0.55,349.55],"nice":false,"zero":false,"padding":0},"axis":null}}},
{"data":{"name":"ohlc"},"mark":{"type":"bar","width":3.9,"color":"#000"},
 "encoding":{"x":{"field":"i","type":"quantitative","scale":{"domain":[-0.55,349.55],"nice":false,"zero":false,"padding":0},"axis":null},
  "y":{"field":"m","type":"quantitative","scale":{"domain":[-2.5,3.0],"nice":false,"zero":false,"padding":0},
   "axis":{"orient":"right","values":[0],"labelExpr":"'0,00000'","tickSize":12,"tickColor":"#000","tickWidth":1.5,"domain":true,"domainColor":"#000","domainWidth":2,"grid":true,"gridColor":"#d9d9d9","gridWidth":2,"labelFontSize":23,"labelFont":"Liberation Sans","labelColor":"#2d2b4b","labelPadding":6,"title":null,"zindex":0}},
  "y2":{"datum":0}}},
{"data":{"values":[{"y":3.0},{"y":-2.5}]},"mark":{"type":"rule","color":"#000","strokeWidth":2},
 "encoding":{"x":{"datum":-0.55,"type":"quantitative","axis":null},"x2":{"datum":371.8},
  "y":{"field":"y","type":"quantitative","scale":{"domain":[-2.5,3.0],"nice":false,"zero":false,"padding":0},
   "axis":{"orient":"right","values":[-2.45,-2.1,-1.75,-1.4,-1.05,-0.7,-0.35,0.35,0.7,1.05,1.4,1.75,2.1,2.45,2.8],"labels":false,"tickSize":5,"tickColor":"#000","tickWidth":1.5,"domain":false,"grid":false,"title":null,"zindex":0}}}},
{"data":{"name":"one"},"mark":{"type":"rule","color":"#888","opacity":0.35,"strokeWidth":7,"xOffset":3,"yOffset":6,"x2Offset":3,"y2Offset":6},
 "encoding":{"x":{"datum":219.8,"type":"quantitative","axis":null},"y":{"datum":2.27,"type":"quantitative","axis":null},"x2":{"datum":286.6},"y2":{"datum":1.37}}},
{"data":{"name":"one"},"mark":{"type":"rule","color":"#ff1010","strokeWidth":4},
 "encoding":{"x":{"datum":219.8,"type":"quantitative","axis":null},"y":{"datum":2.27,"type":"quantitative","axis":null},"x2":{"datum":286.6},"y2":{"datum":1.37}}},
{"data":{"values":[{"t":"MACDH 34; 21; 8 ▾","x":9.2,"y":2.47}]},
 "mark":{"type":"text","align":"left","baseline":"middle","fontSize":23,"color":"#333","font":"Liberation Sans"},
 "encoding":{"x":{"field":"x","type":"quantitative","axis":null},"y":{"field":"y","type":"quantitative","axis":null},"text":{"field":"t"}}},
{"data":{"values":[{"t":"IV","x":9.0,"y":2.55}]},
 "mark":{"type":"text","align":"left","baseline":"alphabetic","fontSize":44,"color":"#ff3300","font":"Liberation Serif"},
 "encoding":{"x":{"field":"x","type":"quantitative","axis":null},"y":{"field":"y","type":"quantitative","axis":null},"text":{"field":"t"}}},
{"data":{"name":"one"},"mark":{"type":"point","shape":"M -1 -0.75 L 1 -0.75 L 1 0.75 L -1 0.75 Z","size":324,"filled":true,"fill":"#fff","stroke":"#000","strokeWidth":2,"opacity":1},
 "encoding":{"x":{"datum":340.5,"type":"quantitative","axis":null},"y":{"datum":2.52,"type":"quantitative","axis":null}}},
{"data":{"values":[{"t":"X","x":346.3,"y":2.52}]},
 "mark":{"type":"text","align":"center","baseline":"middle","fontSize":21,"fontWeight":"bold","color":"#000","font":"Liberation Sans"},
 "encoding":{"x":{"field":"x","type":"quantitative","axis":null},"y":{"field":"y","type":"quantitative","axis":null},"text":{"field":"t"}}}
]
},
{
"width":1717,"height":57,
"layer":[
{"data":{"values":[{"x":21.5,"a":1,"b":2},{"x":171.3,"a":1,"b":2},{"x":321.4,"a":1,"b":2},{"x":21.5,"a":0,"b":1},{"x":272.1,"a":0,"b":1},{"x":349.55,"a":0,"b":2}]},
 "mark":{"type":"rule","color":"#000","strokeWidth":2},
 "encoding":{"x":{"field":"x","type":"quantitative","scale":{"domain":[-0.55,349.55],"nice":false,"zero":false,"padding":0},"axis":null},
  "y":{"field":"a","type":"quantitative","scale":{"domain":[0,2],"nice":false,"zero":false,"padding":0},"axis":null},"y2":{"field":"b"}}},
{"data":{"name":"one"},"mark":{"type":"rule","color":"#000","strokeWidth":2},
 "encoding":{"x":{"datum":-0.55,"type":"quantitative","axis":null},"x2":{"datum":349.55},"y":{"datum":1.0,"type":"quantitative","axis":null}}},
{"data":{"values":[{"t":"2008","x":9.8,"y":0.49},{"t":"01","x":96.2,"y":1.51},{"t":"2009","x":146.8,"y":0.49},{"t":"08","x":175.6,"y":1.51},{"t":"2010","x":310.5,"y":0.49}]},
 "mark":{"type":"text","align":"center","baseline":"middle","fontSize":23,"color":"#2d2b4b","font":"Liberation Sans"},
 "encoding":{"x":{"field":"x","type":"quantitative","axis":null},"y":{"field":"y","type":"quantitative","axis":null},"text":{"field":"t"}}}
]
}
]
}
